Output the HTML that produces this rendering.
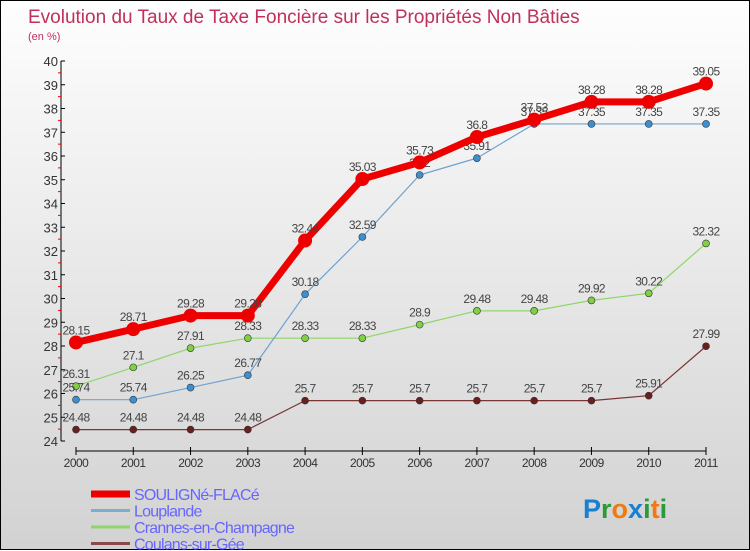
<!DOCTYPE html>
<html><head><meta charset="utf-8"><style>
html,body{margin:0;padding:0}
body{width:750px;height:550px;overflow:hidden;font-family:"Liberation Sans",sans-serif}
#wrap{position:relative;width:748px;height:548px;border:1px solid #000;background:linear-gradient(#fefefe,#d2d2d2)}
svg{position:absolute;left:0;top:0}
</style></head><body>
<div id="wrap">
<svg id="chart" width="750" height="550">
<text x="27" y="22" font-size="19" fill="#c0305a">Evolution du Taux de Taxe Foncière sur les Propriétés Non Bâties</text>
<text x="27" y="39" font-size="11" fill="#c0305a">(en %)</text>
</svg>
</div>
<script>
const years=[2000,2001,2002,2003,2004,2005,2006,2007,2008,2009,2010,2011];
const yTicks=[24,25,26,27,28,29,30,31,32,33,34,35,36,37,38,39,40];
const souligne=[28.15,28.71,29.28,29.28,32.44,35.03,35.73,36.8,37.53,38.28,38.28,39.05];
const louplande=[25.74,25.74,26.25,26.77,30.18,32.59,35.2,35.91,37.35,37.35,37.35,37.35];
const crannes=[26.31,27.1,27.91,28.33,28.33,28.33,28.9,29.48,29.48,29.92,30.22,32.32];
const coulans=[24.48,24.48,24.48,24.48,25.7,25.7,25.7,25.7,25.7,25.7,25.91,27.99];
const names=["SOULIGNé-FLACé","Louplande","Crannes-en-Champagne","Coulans-sur-Gée"];
const NS="http://www.w3.org/2000/svg";
const svg=document.getElementById('chart');
const X=i=>75+i*(630/(years.length-1));
const Y=v=>440-(v-24)*23.75;
function el(t,a,p){const e=document.createElementNS(NS,t);for(const k in a)e.setAttribute(k,a[k]);(p||svg).appendChild(e);return e;}
// y axis
let ax=el('line',{x1:60,y1:60,x2:60,y2:440,stroke:'#000','stroke-width':1});


yTicks.forEach(v=>{
  el('line',{x1:60,y1:Y(v),x2:64,y2:Y(v),stroke:'#000'});
  if(v<40)el('line',{x1:57,y1:Y(v+0.5),x2:60,y2:Y(v+0.5),stroke:'#e00'});
  const t=el('text',{x:57,y:Y(v)+5,'font-size':13,fill:'#333','text-anchor':'end'});
  t.textContent=v;
  
  
});
// x axis
let xa=el('line',{x1:X(0),y1:450,x2:X(11),y2:450,stroke:'#000'});


years.forEach((y,i)=>{
  el('line',{x1:X(i),y1:446,x2:X(i),y2:454,stroke:'#000'});
  const t=el('text',{x:X(i),y:466,'font-size':12,fill:'#333','text-anchor':'middle','letter-spacing':'-0.5'});
  t.textContent=y;
  
  
});
function series(data,color,w,r,name,ptColor){
  const g=el('g',{});
  
  
  el('polyline',{points:data.map((v,i)=>X(i)+','+Y(v)).join(' '),fill:'none',stroke:color,'stroke-width':w,'stroke-linejoin':'round'},g);
  data.forEach((v,i)=>{
    const c=el('circle',{cx:X(i),cy:Y(v),r:r,fill:ptColor||color,stroke:'#333','stroke-width':r>4?0:0.6},g);
    
    
    const t=el('text',{x:X(i),y:Y(v)-8,'font-size':12,fill:'#444','text-anchor':'middle','letter-spacing':'-0.6'},g);
    t.textContent=v;
    
    
  });
}
series(coulans,'#7a3535',1.2,3.5,'series-coulans','#6a1f1f');
series(crannes,'#8ed66a',1.2,3.5,'series-crannes','#7fd045');
series(louplande,'#6fa3cf',1.2,3.5,'series-louplande','#3d8fd0');
series(souligne,'#ee0000',7,7,'series-souligne','#ee0000');
// legend
const lc=['#ee0000','#7aadd0','#8ed66a','#8a4a4a'];
const lw=[7,3,3,3];
names.forEach((n,i)=>{
  const y=493+i*16.5;
  const g=el('g',{});
  
  
  el('line',{x1:90,y1:y,x2:129,y2:y,stroke:lc[i],'stroke-width':lw[i]},g);
  const t=el('text',{x:133,y:y+6,'font-size':16,fill:'#6666ff','letter-spacing':'-0.8'},g);
  t.textContent=n;
});
// logo
const lg=el('text',{x:582,y:517,'font-size':27,'font-weight':'bold'});


[['P','#1a7fd0'],['r','#2a9a3a'],['o','#f07a10'],['x','#1a7fd0'],['i','#2a9a3a'],['t','#f07a10'],['i','#2a9a3a']].forEach(([c,f])=>{const s=el('tspan',{fill:f},lg);s.textContent=c;});
</script>
</body></html>
